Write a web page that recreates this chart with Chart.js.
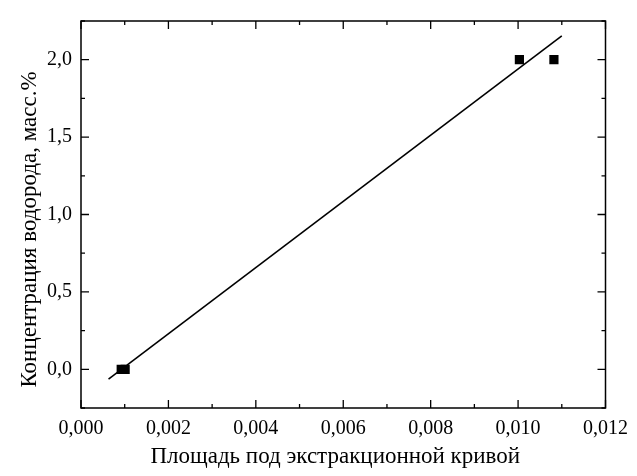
<!DOCTYPE html>
<html>
<head>
<meta charset="utf-8">
<script src="https://cdn.jsdelivr.net/npm/chart.js@4.4.1/dist/chart.umd.min.js"></script>
<style>
html,body{margin:0;padding:0;background:#fff;}
#wrap{width:637px;height:476px;}
</style>
</head>
<body>
<div id="wrap"><canvas id="c" width="637" height="476"></canvas></div>
<script>
// Data
const pointsX = [0.00092, 0.00101, 0.01003, 0.01082];
const pointsY = [0.0, 0.0, 2.0, 2.0];
const fitX = [0.00063, 0.01100];
const fitY = [-0.064, 2.154];

const xMajorTicks = [0, 0.002, 0.004, 0.006, 0.008, 0.010, 0.012];
const xMinorTicks = [0.001, 0.003, 0.005, 0.007, 0.009, 0.011];
const yMajorTicks = [0, 0.5, 1.0, 1.5, 2.0];
const yMinorTicks = [-0.25, 0.25, 0.75, 1.25, 1.75, 2.25];

const xTitle = 'Площадь под экстракционной кривой';
const yTitle = 'Концентрация водорода, масс.%';

const FONT = 'Liberation Serif';

const framePlugin = {
  id: 'frame',
  afterDatasetsDraw(chart) {
    const {ctx, chartArea: a, scales: {x, y}} = chart;
    ctx.save();
    ctx.strokeStyle = '#000';
    ctx.lineWidth = 1.5;
    ctx.strokeRect(a.left, a.top, a.right - a.left, a.bottom - a.top);
    ctx.lineWidth = 1.3;
    ctx.beginPath();
    const xt = (v, len) => {
      const px = x.getPixelForValue(v);
      ctx.moveTo(px, a.bottom); ctx.lineTo(px, a.bottom - len);
      ctx.moveTo(px, a.top); ctx.lineTo(px, a.top + len);
    };
    const yt = (v, len) => {
      const py = y.getPixelForValue(v);
      ctx.moveTo(a.left, py); ctx.lineTo(a.left + len, py);
      ctx.moveTo(a.right, py); ctx.lineTo(a.right - len, py);
    };
    xMajorTicks.forEach(v => xt(v, 8));
    xMinorTicks.forEach(v => xt(v, 4));
    yMajorTicks.forEach(v => yt(v, 8));
    yMinorTicks.forEach(v => yt(v, 4));
    ctx.stroke();

    // axis titles
    ctx.fillStyle = '#000';
    ctx.font = '23px "' + FONT + '"';
    ctx.textAlign = 'center';
    ctx.textBaseline = 'middle';
    ctx.fillText(xTitle, (a.left + a.right) / 2 - 8, 457);
    ctx.translate(30, (a.top + a.bottom) / 2 + 15);
    ctx.rotate(-Math.PI / 2);
    ctx.fillText(yTitle, 0, 0);
    ctx.restore();
  }
};

new Chart(document.getElementById('c'), {
  type: 'scatter',
  data: {
    datasets: [
      {
        type: 'line',
        data: fitX.map((v, i) => ({x: v, y: fitY[i]})),
        borderColor: '#000',
        borderWidth: 1.6,
        pointRadius: 0,
        fill: false,
        tension: 0
      },
      {
        data: pointsX.map((v, i) => ({x: v, y: pointsY[i]})),
        pointStyle: 'rect',
        pointRadius: 6.5,
        backgroundColor: '#000',
        borderColor: '#000',
        borderWidth: 0
      }
    ]
  },
  options: {
    responsive: false,
    animation: false,
    layout: {padding: {left: 0, right: 26, top: 19, bottom: 0}},
    plugins: {legend: {display: false}, tooltip: {enabled: false}},
    scales: {
      x: {
        type: 'linear',
        min: 0, max: 0.012,
        afterBuildTicks: s => { s.ticks = xMajorTicks.map(v => ({value: v})); },
        afterFit: s => { s.height = 68; },
        grid: {display: false, drawTicks: false},
        border: {display: false},
        ticks: {
          padding: 9,
          color: '#000',
          font: {family: FONT, size: 20},
          callback: v => v.toFixed(3).replace('.', ',')
        },
        title: {display: false}
      },
      y: {
        type: 'linear',
        min: -0.25, max: 2.25,
        afterBuildTicks: s => { s.ticks = yMajorTicks.map(v => ({value: v})); },
        afterFit: s => { s.width = 81; },
        grid: {display: false, drawTicks: false},
        border: {display: false},
        ticks: {
          padding: 9,
          color: '#000',
          font: {family: FONT, size: 20},
          callback: v => v.toFixed(1).replace('.', ',')
        },
        title: {display: false}
      }
    }
  },
  plugins: [framePlugin]
});
</script>
</body>
</html>
